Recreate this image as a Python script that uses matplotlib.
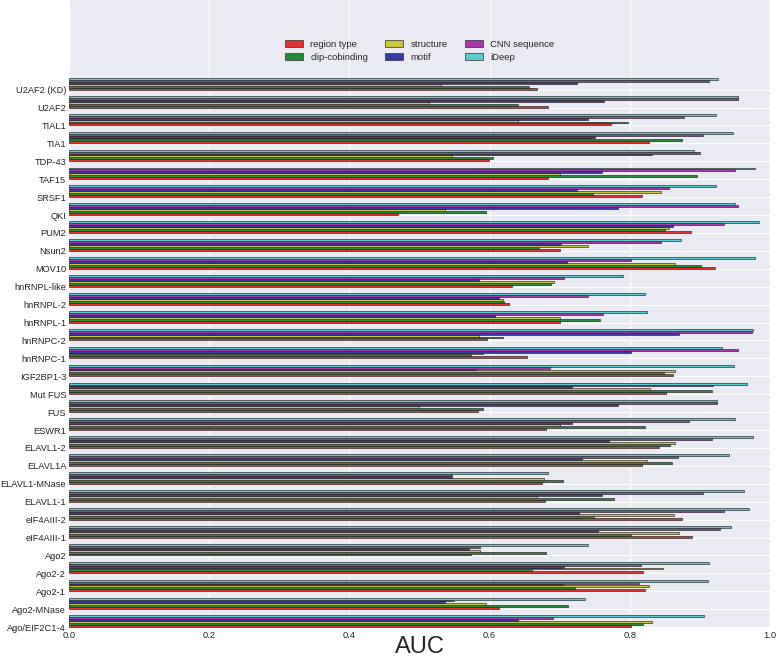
import matplotlib
matplotlib.use("Agg")
import matplotlib.pyplot as plt
import numpy as np

# categories, bottom to top
proteins = ["Ago/EIF2C1-4", "Ago2-MNase", "Ago2-1", "Ago2-2", "Ago2",
            "eIF4AIII-1", "eIF4AIII-2", "ELAVL1-1", "ELAVL1-MNase", "ELAVL1A",
            "ELAVL1-2", "ESWR1", "FUS", "Mut FUS", "IGF2BP1-3",
            "hnRNPC-1", "hnRNPC-2", "hnRNPL-1", "hnRNPL-2", "hnRNPL-like",
            "MOV10", "Nsun2", "PUM2", "QKI", "SRSF1",
            "TAF15", "TDP-43", "TIA1", "TIAL1", "U2AF2", "U2AF2 (KD)"]

region_type = [0.802, 0.613, 0.821, 0.819, 0.573,
               0.889, 0.874, 0.679, 0.675, 0.817,
               0.842, 0.681, 0.584, 0.852, 0.862,
               0.653, 0.596, 0.701, 0.627, 0.632,
               0.922, 0.701, 0.888, 0.470, 0.818,
               0.683, 0.599, 0.828, 0.773, 0.683, 0.667]
clip_cobinding = [0.819, 0.712, 0.722, 0.660, 0.681,
                  0.802, 0.749, 0.778, 0.705, 0.860,
                  0.858, 0.822, 0.590, 0.917, 0.849,
                  0.573, 0.619, 0.758, 0.620, 0.688,
                  0.902, 0.670, 0.850, 0.595, 0.747,
                  0.896, 0.605, 0.874, 0.798, 0.640, 0.656]
structure = [0.831, 0.595, 0.828, 0.848, 0.586,
             0.870, 0.863, 0.668, 0.678, 0.825,
             0.865, 0.701, 0.499, 0.829, 0.865,
             0.590, 0.585, 0.701, 0.619, 0.692,
             0.865, 0.740, 0.856, 0.536, 0.845,
             0.700, 0.546, 0.744, 0.640, 0.513, 0.530]
motif = [0.641, 0.536, 0.705, 0.706, 0.570,
         0.754, 0.728, 0.761, 0.546, 0.732,
         0.770, 0.718, 0.783, 0.717, 0.580,
         0.802, 0.870, 0.608, 0.614, 0.585,
         0.710, 0.702, 0.862, 0.783, 0.725,
         0.761, 0.831, 0.751, 0.741, 0.763, 0.725]
cnn_sequence = [0.690, 0.549, 0.813, 0.816, 0.586,
                0.929, 0.935, 0.904, 0.546, 0.869,
                0.917, 0.884, 0.925, 0.918, 0.686,
                0.955, 0.975, 0.762, 0.741, 0.706,
                0.801, 0.845, 0.935, 0.954, 0.856,
                0.950, 0.900, 0.904, 0.878, 0.955, 0.913]
ideep = [0.906, 0.736, 0.911, 0.913, 0.741,
         0.945, 0.970, 0.963, 0.684, 0.941,
         0.976, 0.950, 0.925, 0.967, 0.949,
         0.931, 0.976, 0.824, 0.822, 0.790,
         0.978, 0.873, 0.985, 0.950, 0.923,
         0.978, 0.892, 0.947, 0.923, 0.955, 0.926]

series = [("region type", region_type, "#e03434"),
          ("clip-cobinding", clip_cobinding, "#2a8a3c"),
          ("structure", structure, "#c8c83c"),
          ("motif", motif, "#3a3aa6"),
          ("CNN sequence", cnn_sequence, "#a63aa6"),
          ("iDeep", ideep, "#5ccccc")]

plt.style.use("seaborn-v0_8-darkgrid")
plt.rcParams["font.family"] = ["Liberation Sans", "DejaVu Sans"]

fig = plt.figure(figsize=(7.78, 6.58), dpi=100)
ax = fig.add_axes([69 / 778, 30 / 658, 701 / 778, 628 / 658])

pos = np.arange(len(proteins))
h = 0.108
for i, (name, vals, col) in enumerate(series):
    ax.barh(pos + i * h, vals, height=h, align="edge", color=col,
            edgecolor="#222222", linewidth=0.45, label=name)

ax.set_yticks(pos)
ax.set_yticklabels(proteins, fontsize=6.7)
ax.set_xlim(0, 1.0)
ax.set_ylim(-0.05, 35)
ax.set_xticks([0, 0.2, 0.4, 0.6, 0.8, 1.0])
ax.set_xticklabels(["0.0", "0.2", "0.4", "0.6", "0.8", "1.0"], fontsize=6.7)
ax.tick_params(axis="both", pad=2)
ax.set_xlabel("AUC", fontsize=17, labelpad=-3)

ax.legend(loc="upper center", bbox_to_anchor=(0.5, 0.95), ncol=3,
          fontsize=6.8, frameon=False, handlelength=1.9, columnspacing=1.8,
          labelspacing=0.4)

fig.savefig("out.png", dpi=100)
